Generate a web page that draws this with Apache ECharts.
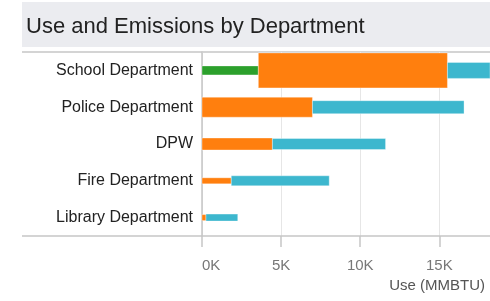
<!DOCTYPE html>
<html>
<head>
<meta charset="utf-8">
<script src="https://cdn.jsdelivr.net/npm/echarts@6/dist/echarts.min.js"></script>
<style>
  html, body { margin: 0; padding: 0; background: #fff; }
  #main { width: 490px; height: 301px; }
</style>
</head>
<body>
<div id="main"></div>
<script>
// categories
var departments = ['School Department', 'Police Department', 'DPW', 'Fire Department', 'Library Department'];
// use (MMBTU) per segment
var greenUse  = [3560, 0, 0, 0, 0];
var orangeUse = [11950, 6980, 4450, 1850, 250];
var tealUse   = [4000, 9580, 7150, 6190, 2010];
// emissions (tCO2e), drawn as bar thickness
var greenCO2  = [90, 0, 0, 0, 0];
var orangeCO2 = [350, 200, 120, 60, 60];
var tealCO2   = [160, 130, 110, 100, 70];
var tickLabels = ['0K', '5K', '10K', '15K'];

var PX_PER_T = 0.1; // thickness scale

// 基于准备好的dom，初始化echarts实例
var myChart = echarts.init(document.getElementById('main'));

function buildData(use, co2, offsets) {
    var out = [];
    for (var i = 0; i < departments.length; i++) {
        if (use[i] > 0) {
            out.push([i, offsets[i], offsets[i] + use[i], co2[i]]);
        }
        offsets[i] += use[i];
    }
    return out;
}

var offs = departments.map(function () { return 0; });
var greenData = buildData(greenUse, greenCO2, offs);
var orangeData = buildData(orangeUse, orangeCO2, offs);
var tealData = buildData(tealUse, tealCO2, offs);

function renderItem(params, api) {
    var cat = api.value(0);
    var p0 = api.coord([api.value(1), cat]);
    var p1 = api.coord([api.value(2), cat]);
    var h = api.value(3) * PX_PER_T;
    var rect = echarts.graphic.clipRectByRect(
        { x: p0[0], y: p0[1] - h / 2, width: p1[0] - p0[0], height: h },
        { x: params.coordSys.x, y: params.coordSys.y, width: params.coordSys.width, height: params.coordSys.height }
    );
    return rect && {
        type: 'rect',
        shape: rect,
        style: { fill: api.visual('color'), stroke: 'rgba(255,255,255,0.35)', lineWidth: 1 }
    };
}

function seg(name, color, data) {
    return {
        name: name,
        type: 'custom',
        renderItem: renderItem,
        itemStyle: { color: color },
        encode: { x: [1, 2], y: 0 },
        data: data
    };
}

var option = {
    animation: false,
    textStyle: { fontFamily: 'Liberation Sans, Arial, sans-serif' },
    title: {
        text: 'Use and Emissions by Department',
        left: 21,
        top: 11,
        textStyle: { fontSize: 22, fontWeight: 'normal', color: '#222' }
    },
    graphic: [
        { type: 'rect', z: -10, shape: { x: 22, y: 2, width: 468, height: 45 }, style: { fill: '#ebecf0' } },
        { type: 'line', shape: { x1: 22, y1: 52, x2: 490, y2: 52 }, style: { stroke: '#c6c6c6', lineWidth: 1.5 } },
        { type: 'line', shape: { x1: 22, y1: 236, x2: 202, y2: 236 }, style: { stroke: '#c6c6c6', lineWidth: 1.5 } }
    ],
    grid: { left: 202, right: 0, top: 52, bottom: 65 },
    xAxis: {
        type: 'value',
        min: 0,
        max: 18200,
        interval: 5000,
        name: 'Use (MMBTU)',
        nameLocation: 'end',
        nameGap: -5,
        nameTextStyle: { align: 'right', verticalAlign: 'top', padding: [42, 0, 0, 0], fontSize: 15, color: '#555' },
        axisLine: { show: true, lineStyle: { color: '#c6c6c6', width: 1.5 } },
        axisTick: { show: true, length: 11, lineStyle: { color: '#c6c6c6', width: 1.5 } },
        splitLine: { show: true, lineStyle: { color: '#e6e6e6' } },
        axisLabel: {
            margin: 22,
            fontSize: 15,
            color: '#777',
            showMaxLabel: false,
            alignMinLabel: 'left',
            formatter: function (v) { return tickLabels[v / 5000] || ''; }
        }
    },
    yAxis: {
        type: 'category',
        inverse: true,
        data: departments,
        axisLine: { show: true, lineStyle: { color: '#c6c6c6', width: 1.5 } },
        axisTick: { show: false },
        axisLabel: { margin: 9, fontSize: 16, color: '#222' }
    },
    series: [
        seg('green', '#2ca02c', greenData),
        seg('orange', '#ff7f0e', orangeData),
        seg('teal', '#3db7ce', tealData)
    ]
};

myChart.setOption(option);
</script>
</body>
</html>
